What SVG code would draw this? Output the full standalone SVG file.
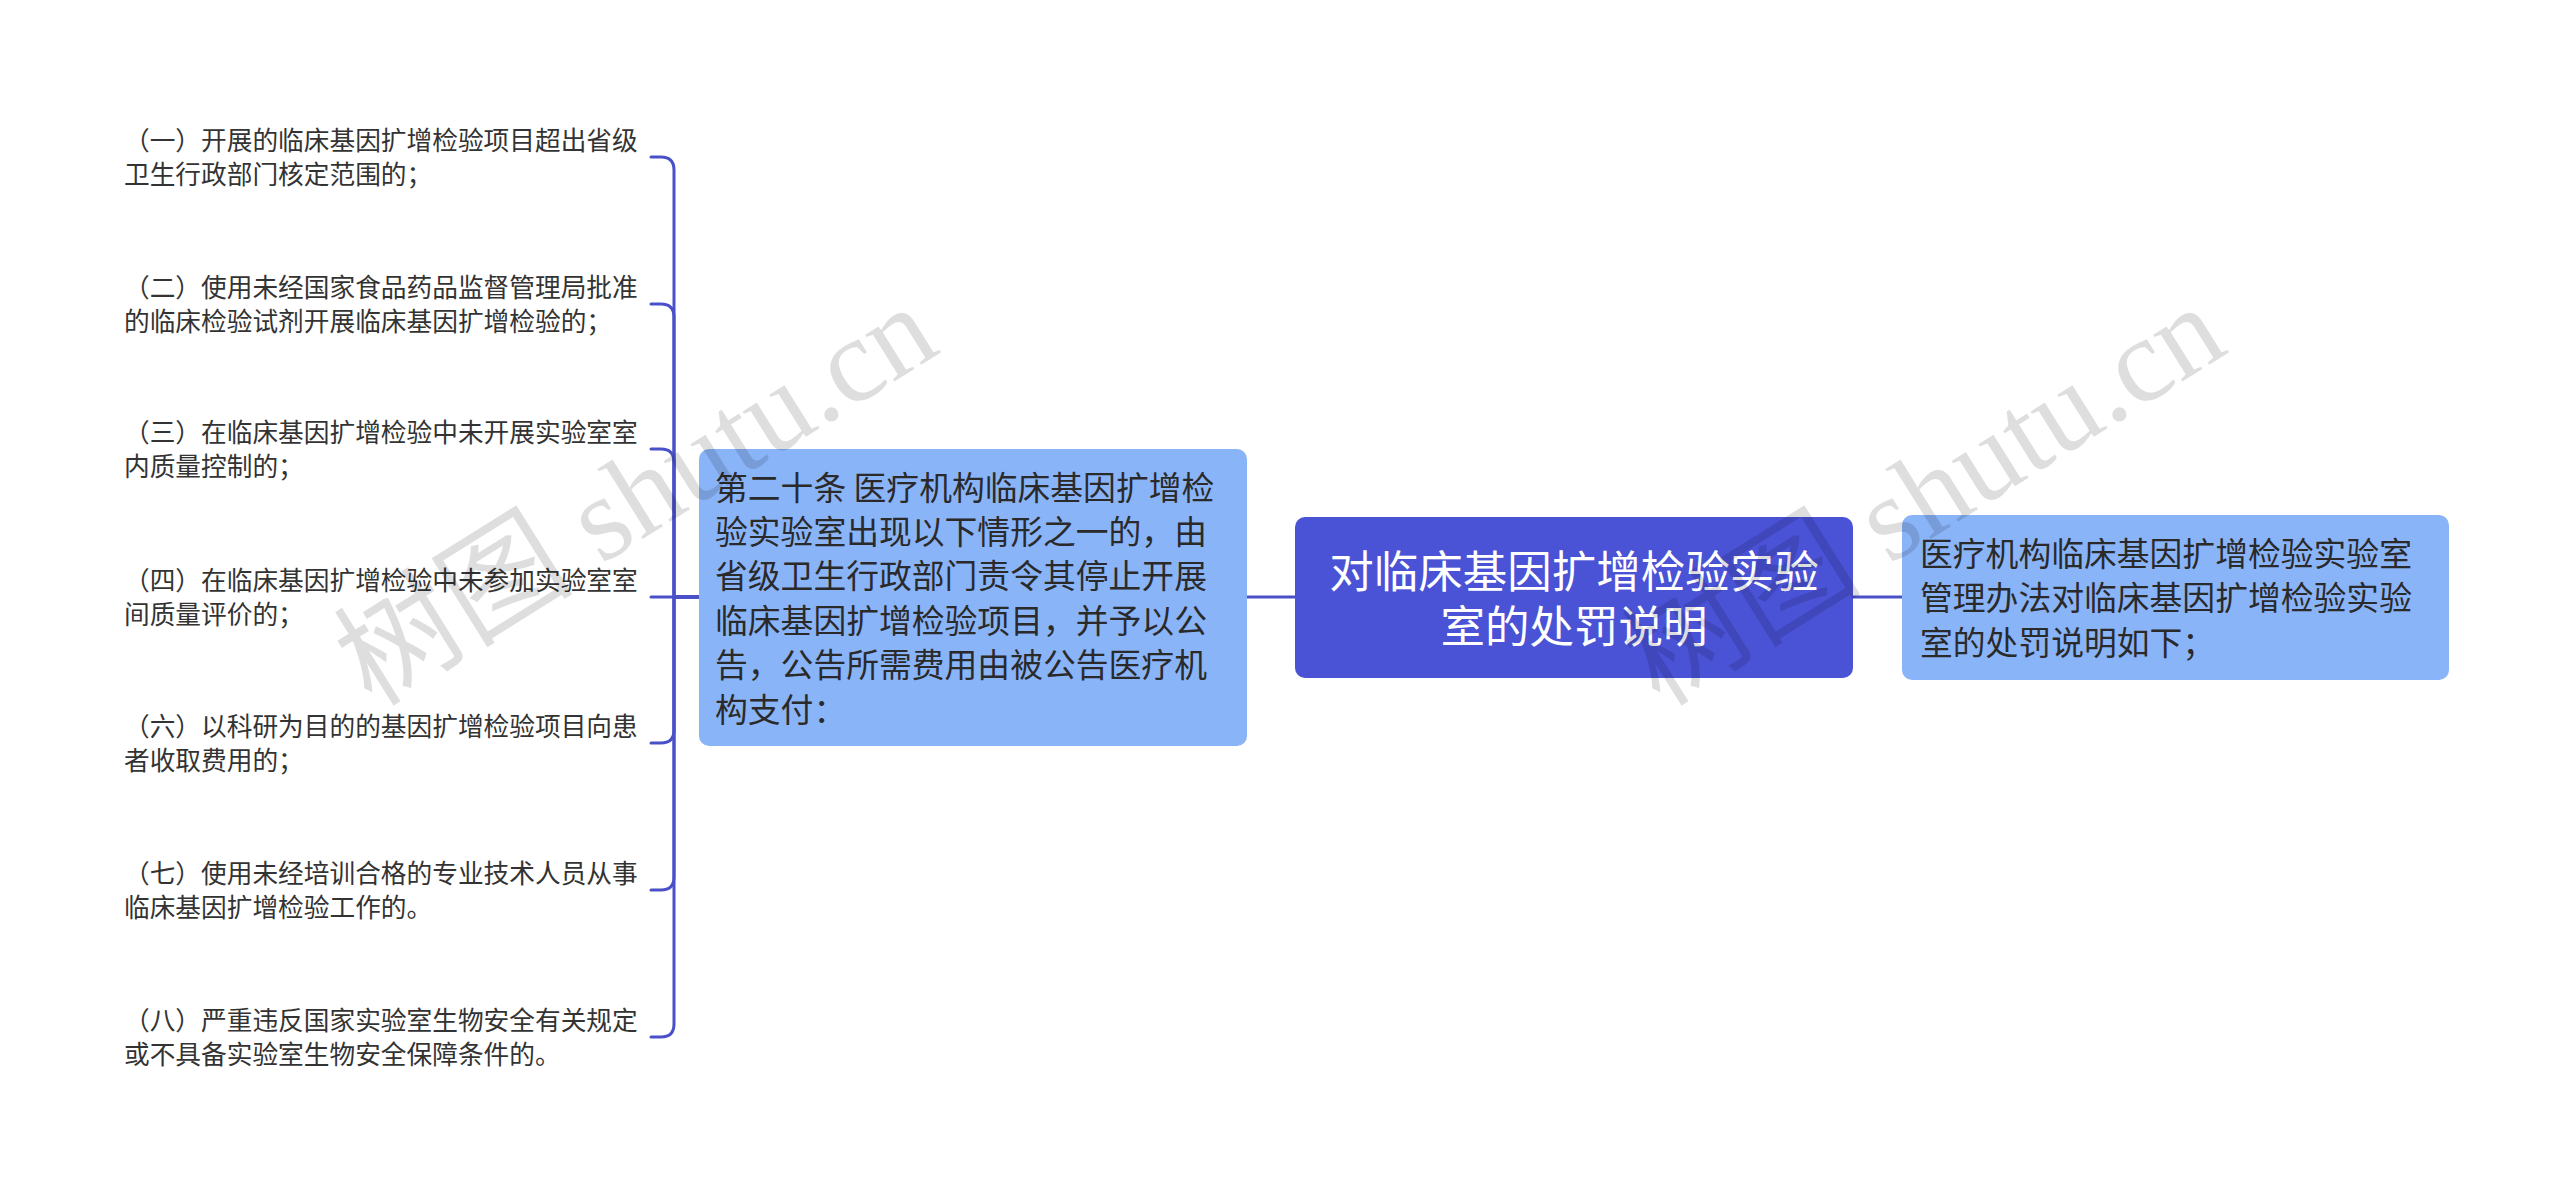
<svg xmlns="http://www.w3.org/2000/svg" width="2560" height="1195" viewBox="0 0 2560 1195">
<style>
  .leaf { font-family: "Noto Sans CJK SC", "Noto Sans", sans-serif; font-size: 25.7px; fill: #333333; }
  .box { fill: #8AB4F8; }
  .boxtxt { font-family: "Noto Sans CJK SC", "Noto Sans", sans-serif; font-size: 32.8px; fill: #2a2a2a; }
  .root { fill: #4A52D6; }
  .roottxt { font-family: "Noto Sans CJK SC", "Noto Sans", sans-serif; font-size: 44.5px; fill: #ffffff; text-anchor: middle; }
  .conn { fill: none; stroke: #4A50C8; stroke-width: 3; stroke-linecap: round; stroke-linejoin: round; }
  .wm { font-family: "Liberation Serif", "Noto Sans CJK SC", serif; font-size: 120px; fill: #000000; fill-opacity: 0.13; }
</style>
<rect width="2560" height="1195" fill="#ffffff"/>

<g id="connectors">
  <path class="conn" d="M1295 597 H1247"/>
  <path class="conn" d="M1853 597 H1902"/>
  <path class="conn" d="M699 597 H674 V170 Q674 157 661 157 H651"/>
  <path class="conn" d="M699 597 H674 V317 Q674 304 661 304 H651"/>
  <path class="conn" d="M699 597 H674 V462 Q674 449 661 449 H651"/>
  <path class="conn" d="M699 597 H651"/>
  <path class="conn" d="M699 597 H674 V730 Q674 743 661 743 H651"/>
  <path class="conn" d="M699 597 H674 V877 Q674 890 661 890 H651"/>
  <path class="conn" d="M699 597 H674 V1024 Q674 1037 661 1037 H651"/>
</g>

<g id="root">
  <rect class="root" x="1295" y="517" width="558" height="161" rx="10"/>
  <text class="roottxt"><tspan x="1574" y="587.5">对临床基因扩增检验实验</tspan><tspan x="1574" y="643">室的处罚说明</tspan></text>
</g>

<g id="right-node">
  <rect class="box" x="1902" y="515" width="547" height="165" rx="10"/>
  <text class="boxtxt"><tspan x="1920" y="565.5">医疗机构临床基因扩增检验实验室</tspan><tspan x="1920" y="610">管理办法对临床基因扩增检验实验</tspan><tspan x="1920" y="654.5">室的处罚说明如下；</tspan></text>
</g>

<g id="left-node">
  <rect class="box" x="699" y="449" width="548" height="297" rx="10"/>
  <text class="boxtxt"><tspan x="715" y="499.5">第二十条 医疗机构临床基因扩增检</tspan><tspan x="715" y="544">验实验室出现以下情形之一的，由</tspan><tspan x="715" y="588.3">省级卫生行政部门责令其停止开展</tspan><tspan x="715" y="632.7">临床基因扩增检验项目，并予以公</tspan><tspan x="715" y="677">告，公告所需费用由被公告医疗机</tspan><tspan x="715" y="721.5">构支付：</tspan></text>
</g>

<g id="leaf-1">
  <text class="leaf"><tspan x="124" y="149.7">（一）开展的临床基因扩增检验项目超出省级</tspan><tspan x="124" y="183.7">卫生行政部门核定范围的；</tspan></text>
</g>
<g id="leaf-2">
  <text class="leaf"><tspan x="124" y="296.7">（二）使用未经国家食品药品监督管理局批准</tspan><tspan x="124" y="330.7">的临床检验试剂开展临床基因扩增检验的；</tspan></text>
</g>
<g id="leaf-3">
  <text class="leaf"><tspan x="124" y="441.7">（三）在临床基因扩增检验中未开展实验室室</tspan><tspan x="124" y="475.7">内质量控制的；</tspan></text>
</g>
<g id="leaf-4">
  <text class="leaf"><tspan x="124" y="589.7">（四）在临床基因扩增检验中未参加实验室室</tspan><tspan x="124" y="623.7">间质量评价的；</tspan></text>
</g>
<g id="leaf-6">
  <text class="leaf"><tspan x="124" y="735.7">（六）以科研为目的的基因扩增检验项目向患</tspan><tspan x="124" y="769.7">者收取费用的；</tspan></text>
</g>
<g id="leaf-7">
  <text class="leaf"><tspan x="124" y="882.7">（七）使用未经培训合格的专业技术人员从事</tspan><tspan x="124" y="916.7">临床基因扩增检验工作的。</tspan></text>
</g>
<g id="leaf-8">
  <text class="leaf"><tspan x="124" y="1029.7">（八）严重违反国家实验室生物安全有关规定</tspan><tspan x="124" y="1063.7">或不具备实验室生物安全保障条件的。</tspan></text>
</g>

<g id="watermarks">
  <text class="wm" transform="translate(372 708) rotate(-32)">树图 shutu.cn</text>
  <text class="wm" transform="translate(1660 708) rotate(-32)">树图 shutu.cn</text>
</g>
</svg>
